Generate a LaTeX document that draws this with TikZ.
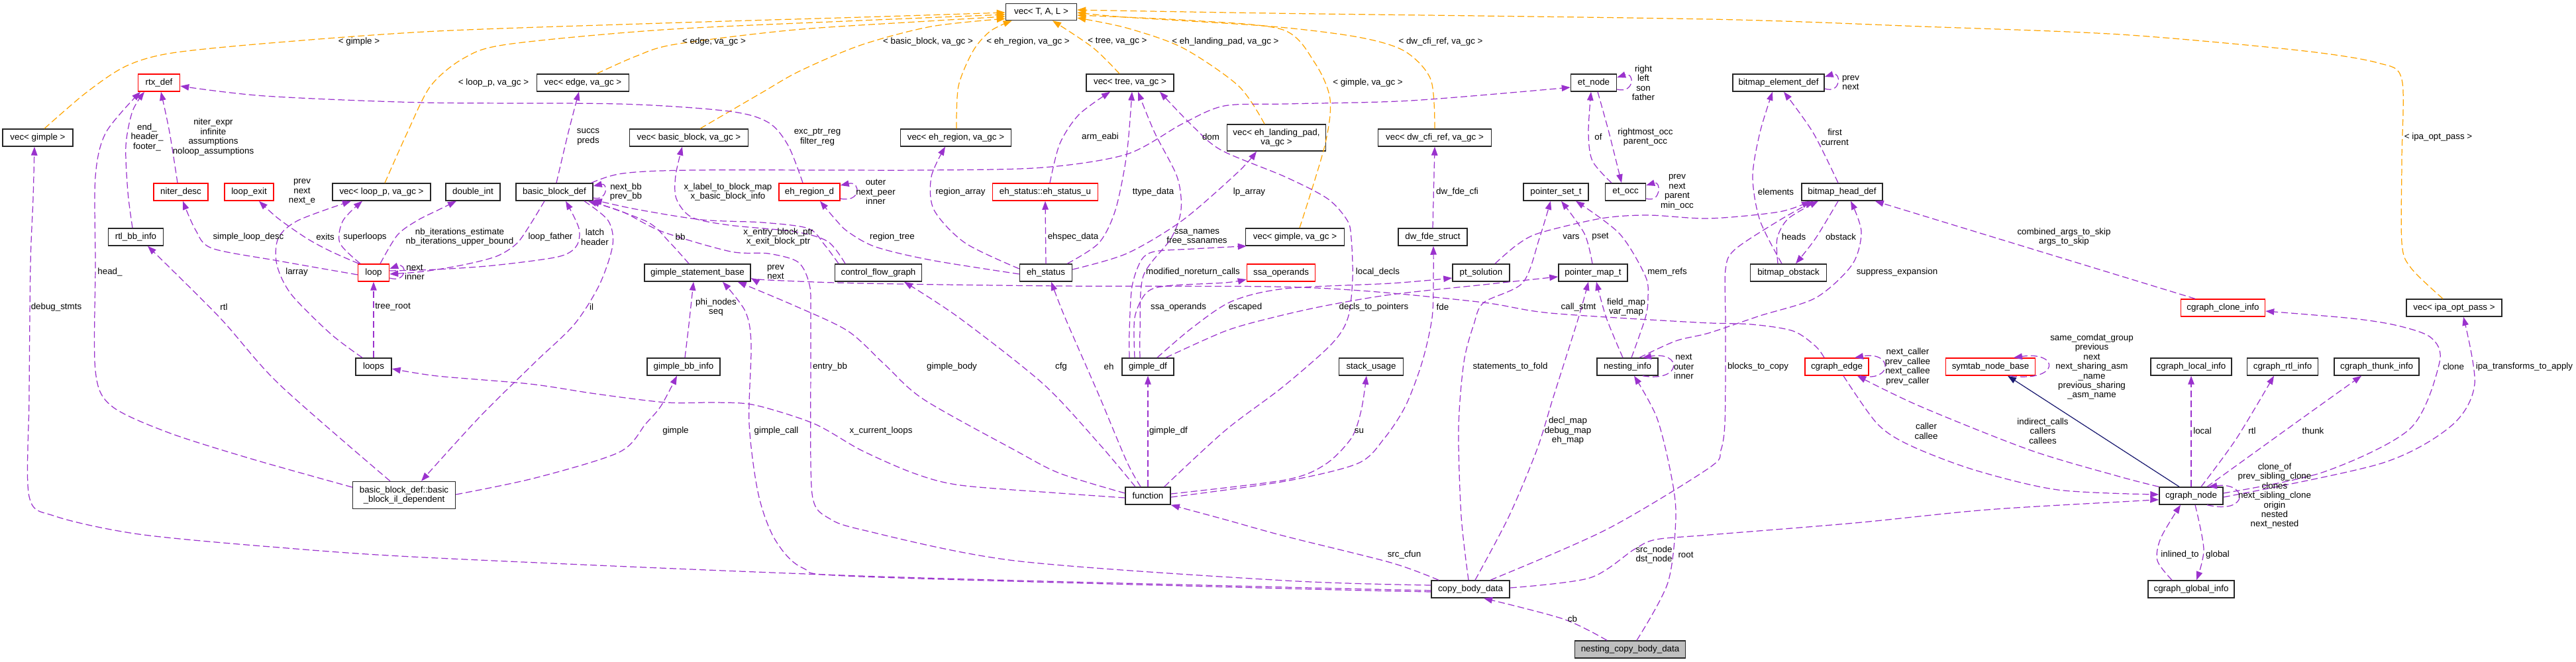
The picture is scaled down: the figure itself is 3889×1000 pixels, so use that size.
\documentclass[tikz,border=0pt]{standalone}
\usepackage{fontspec}
\setmainfont{Liberation Sans}
\usetikzlibrary{arrows.meta,calc}
\definecolor{uc}{HTML}{9A32CD}
\definecolor{tc}{HTML}{FFA500}
\definecolor{ic}{HTML}{191970}
\definecolor{ngray}{HTML}{BFBFBF}
\newcommand\dfont{\fontsize{7.6pt}{8.25pt}\selectfont}
\tikzset{
  cls/.style={draw=black!85, line width=0.85pt, fill=white, inner sep=0pt,
    minimum height=0.52cm, font=\dfont, align=center},
  rcls/.style={cls, draw=red},
  wd/.style={minimum width=#1*0.02cm},
  ht/.style={minimum height=#1*0.02cm},
  tipa/.style={-{Triangle[length=0.26cm,width=0.19cm]}},
  ue/.style={draw=uc, line width=0.7pt, dash pattern=on 0.2cm off 0.1cm, tipa},
  te/.style={draw=tc, line width=0.7pt, dash pattern=on 0.2cm off 0.1cm, tipa},
  ie/.style={draw=ic, line width=0.7pt, tipa},
  lbl/.style={font=\dfont, align=center, inner sep=0pt},
}
\begin{document}
\begin{tikzpicture}[x=0.02cm, y=-0.02cm]
\useasboundingbox (0,0) rectangle (3889,1000);
\fill[white] (0,0) rectangle (3889,1000);

% ---------- nodes ----------
\node[cls,wd=106] (vecgimple) at (57,208) {vec< gimple >};
\node[rcls,wd=63] (rtxdef) at (240,125) {rtx\_def};
\node[rcls,wd=82] (niterdesc) at (273,290) {niter\_desc};
\node[rcls,wd=74] (loopexit) at (376,290) {loop\_exit};
\node[cls,wd=148] (veclooppt) at (576,290) {vec< loop\_p, va\_gc >};
\node[cls,wd=83] (rtlbbinfo) at (205,358) {rtl\_bb\_info};
\node[rcls,wd=47] (loop) at (564,412) {loop};
\node[cls,wd=54] (loops) at (564,554) {loops};
\node[cls,wd=155,ht=41] (bbil) at (610,748) {basic\_block\_def::basic\\\_block\_il\_dependent};
\node[cls,wd=139] (vecedge) at (880,125) {vec< edge, va\_gc >};
\node[cls,wd=82] (doubleint) at (714,290) {double\_int};
\node[cls,wd=116] (bbdef) at (837,290) {basic\_block\_def};
\node[cls,wd=179] (vecbb) at (1040,208) {vec< basic\_block, va\_gc >};
\node[rcls,wd=92] (ehregiond) at (1222,290) {eh\_region\_d};
\node[cls,wd=160] (gsb) at (1053,412) {gimple\_statement\_base};
\node[cls,wd=131] (cfg) at (1326,412) {control\_flow\_graph};
\node[cls,wd=110] (gbbinfo) at (1032,554) {gimple\_bb\_info};
\node[cls,wd=107,ht=25] (vecTAL) at (1572,18) {vec< T, A, L >};
\node[cls,wd=167] (vecehregion) at (1443,208) {vec< eh\_region, va\_gc >};
\node[cls,wd=132] (vectree) at (1706,125) {vec< tree, va\_gc >};
\node[cls,wd=149,ht=40] (veclp) at (1927,208) {vec< eh\_landing\_pad,\\ va\_gc >};
\node[rcls,wd=159] (ehstatusu) at (1578,290) {eh\_status::eh\_status\_u};
\node[cls,wd=79] (ehstatus) at (1579,412) {eh\_status};
\node[cls,wd=149] (vecgimplegc) at (1955,358) {vec< gimple, va\_gc >};
\node[rcls,wd=103] (ssaoperands) at (1934,412) {ssa\_operands};
\node[cls,wd=78] (gimpledf) at (1733,554) {gimple\_df};
\node[cls,wd=68] (function) at (1733,749) {function};
\node[cls,wd=69] (etnode) at (2406,125) {et\_node};
\node[cls,wd=171] (veccfi) at (2166,208) {vec< dw\_cfi\_ref, va\_gc >};
\node[cls,wd=98] (pointerset) at (2349,290) {pointer\_set\_t};
\node[cls,wd=61] (etocc) at (2454,290) {et\_occ};
\node[cls,wd=104] (dwfde) at (2163,358) {dw\_fde\_struct};
\node[cls,wd=86] (ptsolution) at (2236,412) {pt\_solution};
\node[cls,wd=104] (pointermap) at (2405,412) {pointer\_map\_t};
\node[cls,wd=97] (stackusage) at (2070,554) {stack\_usage};
\node[cls,wd=92] (nestinginfo) at (2457,554) {nesting\_info};
\node[cls,wd=118] (cbd) at (2220,890) {copy\_body\_data};
\node[cls,wd=167,fill=ngray] (ncbd) at (2461,981) {nesting\_copy\_body\_data};
\node[cls,wd=138] (bitmapelem) at (2685,125) {bitmap\_element\_def};
\node[cls,wd=122] (bitmaphead) at (2781,290) {bitmap\_head\_def};
\node[cls,wd=115] (bitmapobstack) at (2700,412) {bitmap\_obstack};
\node[rcls,wd=96] (cgraphedge) at (2773,554) {cgraph\_edge};
\node[rcls,wd=135] (symtab) at (3005,554) {symtab\_node\_base};
\node[rcls,wd=127] (cloneinfo) at (3356,465) {cgraph\_clone\_info};
\node[cls,wd=144] (vecipa) at (3705,465) {vec< ipa\_opt\_pass >};
\node[cls,wd=122] (localinfo) at (3308,554) {cgraph\_local\_info};
\node[cls,wd=107] (rtlinfo) at (3446,554) {cgraph\_rtl\_info};
\node[cls,wd=128] (thunkinfo) at (3588,554) {cgraph\_thunk\_info};
\node[cls,wd=96] (cgraphnode) at (3308,749) {cgraph\_node};
\node[cls,wd=130] (globalinfo) at (3308,890) {cgraph\_global\_info};

% ---------- template edges ----------
\draw[te] plot[smooth] coordinates {($(vecgimple.north)+(10,0)$) (130,140) (190,100) (260,80) (420,64) (660,47) (1000,35) (1300,26) ($(vecTAL.west)+(0,1)$)};
\draw[te] plot[smooth] coordinates {($(veclooppt.north)+(5,0)$) (615,200) (650,130) (700,88) (766,67) (1000,45) (1300,31) ($(vecTAL.west)+(0,4)$)};
\draw[te] plot[smooth] coordinates {($(vecedge.north)+(21,0)$) (960,85) (1019,67) (1200,45) (1400,32) ($(vecTAL.west)+(0,7)$)};
\draw[te] plot[smooth] coordinates {($(vecbb.north)+(17,0)$) (1150,140) (1208,107) (1300,68) (1406,40) ($(vecTAL.south west)+(0,-3)$)};
\draw[te] plot[smooth] coordinates {($(vecehregion.north)+(1,0)$) (1447,130) (1469,77) (1495,47) ($(vecTAL.south west)+(10,0)$)};
\draw[te] plot[smooth] coordinates {($(vectree.north)+(-16,0)$) (1650,72) ($(vecTAL.south)+(17,0)$)};
\draw[te] plot[smooth] coordinates {($(veclp.north)+(-18,0)$) (1870,130) (1785,72) (1700,42) ($(vecTAL.east)+(0,9)$)};
\draw[te] plot[smooth] coordinates {($(vecgimplegc.north)+(7,0)$) (2000,220) (2008,150) (1985,95) (1937,45) (1800,31) ($(vecTAL.east)+(0,5)$)};
\draw[te] plot[smooth] coordinates {(veccfi.north) (2160,120) (2120,77) (2050,56) (1920,40) (1700,26) ($(vecTAL.east)+(0,1)$)};
\draw[te] plot[smooth] coordinates {($(vecipa.north)+(-17,0)$) (3640,405) (3626,367) (3626,240) (3626,120) (3590,95) (3470,76) (3200,52) (2900,40) (2580,29) (1920,20) ($(vecTAL.east)+(0,-3)$)};

% ---------- usage edges ----------
\draw[ue] plot[smooth] coordinates {($(rtlbbinfo.north)+(-5,0)$) (193,290) (190,220) (200,168) ($(rtxdef.south)+(-22,0)$)};
\draw[ue] plot[smooth] coordinates {($(niterdesc.north)+(-5,0)$) (256,200) ($(rtxdef.south)+(3,0)$)};
\draw[ue] plot[smooth] coordinates {($(bbil.west)+(0,-12)$) (379,693) (253,653) (168,613) (144,560) (144,400) (144,267) (160,200) ($(rtxdef.south)+(-28,0)$)};
\draw[ue] plot[smooth] coordinates {($(ehregiond.north)+(-10,0)$) (1190,220) (1160,185) (1100,168) (935,157) (640,155) (400,145) ($(rtxdef.east)+(0,5)$)};
\draw[ue] plot[smooth] coordinates {($(cbd.west)+(0,2)$) (1940,887) (1300,870) (660,843) (421,827) (210,807) (84,780) (44,750) (44,600) (46,400) (50,300) ($(vecgimple.south)+(-5,0)$)};
\draw[ue] plot[smooth] coordinates {($(loop.west)+(0,3)$) (420,394) (320,375) (295,347) ($(niterdesc.south)+(3,0)$)};
\draw[ue] plot[smooth] coordinates {($(loop.north west)+(2,0)$) (500,380) (463,360) (420,330) ($(loopexit.south)+(15,0)$)};
\draw[ue] plot[smooth] coordinates {($(loop.north)+(-20,0)$) (513,367) (518,333) ($(veclooppt.south)+(-29,0)$)};
\draw[ue] plot[smooth] coordinates {($(loops.north)+(-17,0)$) (500,505) (440,445) (418,400) (420,360) (450,333) ($(veclooppt.south)+(-46,0)$)};
\draw[ue] (loops.north) -- (loop.south);
\draw[ue] ($(loop.east)+(0,8)$) .. controls (615,428) and (615,396) .. ($(loop.east)+(0,-6)$);
\draw[ue] plot[smooth] coordinates {($(loop.north)+(10,0)$) (600,355) (630,333) (660,318) ($(doubleint.south)+(-25,0)$)};
\draw[ue] plot[smooth] coordinates {($(loop.east)+(0,-3)$) (660,407) (745,401) (842,388) (870,372) (874,345) ($(bbdef.south)+(17,0)$)};
\draw[ue] plot[smooth] coordinates {($(bbdef.south)+(-15,0)$) (800,340) (780,368) (750,387) (700,400) (640,410) ($(loop.east)+(0,2)$)};
\draw[ue] plot[smooth] coordinates {($(bbdef.south)+(45,0)$) (918,333) (925,370) (905,430) (867,490) (808,547) (724,630) ($(bbil.north)+(26,0)$)};
\draw[ue] plot[smooth] coordinates {($(bbdef.north)+(3,0)$) (858,200) ($(vecedge.south)+(-6,0)$)};
\draw[ue] ($(bbdef.east)+(0,9)$) .. controls (918,304) and (918,276) .. ($(bbdef.east)+(0,-9)$);
\draw[ue] plot[smooth] coordinates {($(gsb.north)+(-13,0)$) (1010,365) (977,335) ($(bbdef.south)+(55,0)$)};
\draw[ue] plot[smooth] coordinates {($(cfg.north)+(-60,0)$) (1245,370) (1220,345) (1150,336) (1060,332) (960,316) ($(bbdef.south east)+(0,-2)$)};
\draw[ue] plot[smooth] coordinates {($(cbd.west)+(0,-6)$) (1940,877) (1532,847) (1300,800) (1250,782) (1229,760) (1224,700) (1224,480) (1222,430) (1205,396) (1160,383) (1103,380) (1000,350) (940,320) ($(bbdef.south east)+(-8,0)$)};
\draw[ue] plot[smooth] coordinates {($(cfg.north)+(-50,0)$) (1250,365) (1200,350) (1100,340) (1044,328) (1021,300) (1020,265) ($(vecbb.south)+(-10,0)$)};
\draw[ue] plot[smooth] coordinates {($(bbdef.north east)+(-3,0)$) (940,262) (1050,257) (1400,257) (1575,253) (1701,233) (1785,187) (1848,160) (1940,157) (2130,152) ($(etnode.west)+(0,7)$)};
\draw[ue] plot[smooth] coordinates {($(bbil.east)+(0,-1)$) (808,722) (935,683) (975,640) (998,613) ($(gbbinfo.south)+(-10,0)$)};
\draw[ue] plot[smooth] coordinates {($(gbbinfo.north)+(2,0)$) (1040,490) ($(gsb.south)+(-6,0)$)};
\draw[ue] plot[smooth] coordinates {($(cbd.west)+(0,4)$) (1940,889) (1300,871) (1212,858) (1170,815) (1145,747) (1131,640) (1134,520) (1125,470) ($(gsb.south)+(38,0)$)};
\draw[ue] plot[smooth] coordinates {($(function.west)+(0,-4)$) (1600,715) (1532,680) (1394,603) (1335,550) (1280,500) (1200,462) ($(gsb.south east)+(-20,0)$)};
\draw[ue] plot[smooth] coordinates {($(function.west)+(0,3)$) (1600,745) (1450,733) (1380,715) (1300,680) (1229,640) (1140,612) (1082,608) (1006,608) (900,595) (800,580) (660,568) ($(loops.east)+(0,3)$)};
\draw[ue] (function.north) -- (gimpledf.south);
\draw[ue] plot[smooth] coordinates {($(function.north)+(-11,0)$) (1701,697) (1659,597) (1608,480) ($(ehstatus.south)+(8,0)$)};
\draw[ue] plot[smooth] coordinates {($(function.north)+(-19,0)$) (1659,670) (1575,580) (1448,480) ($(cfg.south)+(39,0)$)};
\draw[ue] plot[smooth] coordinates {($(function.north east)+(-10,0)$) (1850,650) (1936,585) (2010,520) (2035,480) (2042,420) (2040,360) (2034,333) (2004,300) (1940,267) (1844,227) (1800,190) ($(vectree.south)+(45,0)$)};
\draw[ue] plot[smooth] coordinates {($(function.east)+(0,-3)$) (1940,725) (2000,702) (2040,662) (2055,620) ($(stackusage.south)+(-7,0)$)};
\draw[ue] plot[smooth] coordinates {($(function.east)+(0,2)$) (1940,727) (2050,700) (2090,662) (2122,613) (2147,547) (2162,480) (2164,420) ($(dwfde.south)+(1,0)$)};
\draw[ue] (dwfde.north) -- (veccfi.south);
\draw[ue] plot[smooth] coordinates {($(cbd.north)+(-3,0)$) (2206,780) (2202,647) (2210,547) (2225,490) (2240,457) (2299,427) (2324,360) ($(pointerset.south)+(-8,0)$)};
\draw[ue] plot[smooth] coordinates {($(ptsolution.north)+(21,0)$) (2290,370) (2324,352) (2417,330) (2488,325) (2580,330) (2686,320) ($(bitmaphead.south)+(-48,0)$)};
\draw[ue] plot[smooth] coordinates {($(pointermap.north)+(-1,0)$) (2392,353) ($(pointerset.south)+(8,0)$)};
\draw[ue] plot[smooth] coordinates {($(nestinginfo.north)+(6,0)$) (2484,480) (2488,450) (2484,417) (2445,353) ($(pointerset.south)+(30,0)$)};
\draw[ue] plot[smooth] coordinates {($(nestinginfo.north)+(-7,0)$) (2425,480) ($(pointermap.south)+(5,0)$)};
\draw[ue] plot[smooth] coordinates {($(cbd.north)+(7,0)$) (2278,780) (2320,680) (2345,600) (2383,480) ($(pointermap.south)+(-7,0)$)};
\draw[ue] plot[smooth] coordinates {($(cgraphedge.north)+(-19,0)$) (2741,523) (2707,500) (2644,490) (2560,487) (2341,473) (2240,457) (2067,440) (1920,433) (1600,432) (1300,428) (1160,423) ($(gsb.east)+(0,8)$)};
\draw[ue] plot[smooth] coordinates {($(gimpledf.north)+(-12,0)$) (1721,500) (1726,417) (1768,360) (1783,317) (1777,267) (1743,200) ($(vectree.south)+(12,0)$)};
\draw[ue] plot[smooth] coordinates {($(gimpledf.north)+(-28,0)$) (1705,500) (1709,433) (1723,393) (1743,380) (1800,376) ($(vecgimplegc.south west)+(2,0)$)};
\draw[ue] plot[smooth] coordinates {($(gimpledf.north)+(-20,0)$) (1713,480) (1730,443) (1760,432) (1850,427) ($(ssaoperands.west)+(0,10)$)};
\draw[ue] plot[smooth] coordinates {($(gimpledf.north)+(14,0)$) (1800,495) (1860,455) (1940,436) (2100,428) ($(ptsolution.west)+(0,8)$)};
\draw[ue] plot[smooth] coordinates {($(gimpledf.north)+(27,0)$) (1850,500) (1920,480) (2000,462) (2100,445) (2240,430) ($(pointermap.west)+(0,6)$)};
\draw[ue] ($(nestinginfo.south)+(23,0)$) .. controls (2540,578) and (2540,530) .. ($(nestinginfo.north)+(23,0)$);
\draw[ue] plot[smooth] coordinates {($(ncbd.north)+(-35,0)$) (2360,935) ($(cbd.south)+(20,0)$)};
\draw[ue] plot[smooth] coordinates {($(ncbd.north)+(10,0)$) (2518,880) (2530,780) (2522,713) (2501,630) ($(nestinginfo.south)+(10,0)$)};
\draw[ue] plot[smooth] coordinates {($(cbd.north)+(-48,0)$) (2100,850) (1940,810) (1850,785) (function.south east)};
\draw[ue] plot[smooth] coordinates {($(cbd.east)+(0,-2)$) (2400,873) (2467,830) (2500,815) (2580,808) (2800,790) (3000,770) (3220,757) ($(cgraphnode.west)+(0,6)$)};
\draw[ue] plot[smooth] coordinates {($(cbd.north)+(30,0)$) (2425,800) (2580,707) (2598,680) (2604,640) (2605,547) (2605,480) (2605,407) (2619,377) (2686,333) ($(bitmaphead.south)+(-43,0)$)};
\draw[ue] plot[smooth] coordinates {($(bitmaphead.north)+(-6,0)$) (2737,200) ($(bitmapelem.south)+(8,0)$)};
\draw[ue] plot[smooth] coordinates {($(bitmapobstack.north)+(-10,0)$) (2657,333) (2646,267) (2657,200) ($(bitmapelem.south)+(-9,0)$)};
\draw[ue] plot[smooth] coordinates {($(bitmapobstack.north)+(-16,0)$) (2683,360) (2700,330) ($(bitmaphead.south)+(-36,0)$)};
\draw[ue] plot[smooth] coordinates {($(bitmaphead.south)+(-6,0)$) (2741,360) ($(bitmapobstack.north)+(11,0)$)};
\draw[ue] ($(bitmapelem.east)+(0,9)$) .. controls (2780,142) and (2780,108) .. ($(bitmapelem.east)+(0,-9)$);
\draw[ue] plot[smooth] coordinates {($(nestinginfo.north)+(18,0)$) (2530,515) (2580,503) (2657,477) (2741,450) (2796,400) (2810,350) ($(bitmaphead.south)+(13,0)$)};
\draw[ue] ($(cloneinfo.north)+(-42,0)$) -- ($(bitmaphead.south east)+(-12,0)$);
\draw[ue] plot[smooth] coordinates {($(cgraphnode.east)+(0,-4)$) (3508,713) (3639,647) (3683,547) (3670,510) (3620,492) (3551,481) ($(cloneinfo.east)+(0,5)$)};
\draw[ue] plot[smooth] coordinates {($(cgraphnode.east)+(0,2)$) (3595,700) (3701,643) (3736,580) ($(vecipa.south)+(14,0)$)};
\draw[ue] (cgraphnode.north) -- (localinfo.south);
\draw[ue] plot[smooth] coordinates {($(cgraphnode.north)+(15,0)$) (3376,663) ($(rtlinfo.south)+(-13,0)$)};
\draw[ue] plot[smooth] coordinates {($(cgraphnode.north)+(24,0)$) (3464,640) ($(thunkinfo.south)+(-23,0)$)};
\draw[ue] ($(cgraphnode.south)+(24,0)$) .. controls (3395,778) and (3395,728) .. ($(cgraphnode.north)+(26,0)$);
\draw[ue] plot[smooth] coordinates {($(cgraphnode.south)+(6,0)$) (3327,830) ($(globalinfo.north)+(8,0)$)};
\draw[ue] plot[smooth] coordinates {($(globalinfo.north)+(-29,0)$) (3257,847) (3262,813) ($(cgraphnode.south)+(-16,0)$)};
\draw[ie] ($(cgraphnode.north)+(-18,0)$) -- ($(symtab.south)+(26,0)$);
\draw[ue] ($(symtab.south)+(30,0)$) .. controls (3110,578) and (3110,530) .. ($(symtab.north)+(35,0)$);
\draw[ue] plot[smooth] coordinates {(cgraphnode.north west) (3200,720) (3065,680) (2897,613) ($(cgraphedge.south)+(31,0)$)};
\draw[ue] plot[smooth] coordinates {($(cgraphedge.south)+(10,0)$) (2834,640) (2884,673) (2981,710) (3107,740) ($(cgraphnode.west)+(0,-2)$)};
\draw[ue] ($(cgraphedge.south)+(35,0)$) .. controls (2858,578) and (2858,530) .. ($(cgraphedge.north)+(27,0)$);
\draw[ue] ($(etnode.east)+(0,10)$) .. controls (2468,142) and (2468,108) .. ($(etnode.east)+(0,-8)$);
\draw[ue] plot[smooth] coordinates {($(etocc.north)+(-21,0)$) (2404,243) (2398,200) ($(etnode.south)+(-4,0)$)};
\draw[ue] plot[smooth] coordinates {($(etnode.south)+(6,0)$) (2429,200) ($(etocc.north)+(-6,0)$)};
\draw[ue] ($(etocc.east)+(0,10)$) .. controls (2508,307) and (2508,273) .. ($(etocc.east)+(0,-10)$);
\draw[ue] ($(ehregiond.east)+(0,10)$) .. controls (1300,307) and (1300,273) .. ($(ehregiond.east)+(0,-10)$);
\draw[ue] plot[smooth] coordinates {($(ehstatus.west)+(0,2)$) (1406,393) (1322,373) (1280,350) (1260,330) ($(ehregiond.south)+(16,0)$)};
\draw[ue] plot[smooth] coordinates {($(ehstatus.west)+(0,-6)$) (1457,367) (1410,317) (1406,267) ($(vecehregion.south)+(-16,0)$)};
\draw[ue] (ehstatus.north) -- (ehstatusu.south);
\draw[ue] plot[smooth] coordinates {($(ehstatus.north east)+(-8,0)$) (1659,367) (1684,317) (1701,233) ($(vectree.south)+(3,0)$)};
\draw[ue] plot[smooth] coordinates {($(ehstatus.east)+(0,-5)$) (1701,383) (1785,333) (1869,260) ($(veclp.south)+(-30,0)$)};
\draw[ue] plot[smooth] coordinates {($(ehstatusu.north)+(7,0)$) (1600,217) (1629,173) ($(vectree.south)+(-30,0)$)};
\draw[ue] plot[smooth] coordinates {($(bbil.north)+(-21,0)$) (421,580) (332,480) ($(rtlbbinfo.south)+(18,0)$)};

% ---------- labels ----------
\node[lbl] (l1) at (542,63) {< gimple >};
\node[lbl] (l2) at (745,125) {< loop\_p, va\_gc >};
\node[lbl] (l3) at (1078,63) {< edge, va\_gc >};
\node[lbl] (l4) at (1401,63) {< basic\_block, va\_gc >};
\node[lbl] (l5) at (1552,63) {< eh\_region, va\_gc >};
\node[lbl] (l6) at (1687,63) {< tree, va\_gc >};
\node[lbl] (l7) at (1850,63) {< eh\_landing\_pad, va\_gc >};
\node[lbl] (l8) at (2065,125) {< gimple, va\_gc >};
\node[lbl] (l9) at (2175,63) {< dw\_cfi\_ref, va\_gc >};
\node[lbl] (l10) at (3681,207) {< ipa\_opt\_pass >};
\node[lbl] (l11) at (222,207) {end\_\\header\_\\footer\_};
\node[lbl] (l12) at (322,207) {niter\_expr\\infinite\\assumptions\\noloop\_assumptions};
\node[lbl] (l13) at (456,290) {prev\\next\\next\_e};
\node[lbl] (l14) at (375,358) {simple\_loop\_desc};
\node[lbl] (l15) at (491,358) {exits};
\node[lbl] (l16) at (551,358) {superloops};
\node[lbl] (l17) at (166,411) {head\_};
\node[lbl] (l18) at (448,411) {larray};
\node[lbl] (l19) at (626,411) {next\\inner};
\node[lbl] (l20) at (85,464) {debug\_stmts};
\node[lbl] (l21) at (338,464) {rtl};
\node[lbl] (l22) at (593,464) {tree\_root};
\node[lbl] (l23) at (694,358) {nb\_iterations\_estimate\\nb\_iterations\_upper\_bound};
\node[lbl] (l24) at (888,207) {succs\\preds};
\node[lbl] (l25) at (1234,207) {exc\_ptr\_reg\\filter\_reg};
\node[lbl] (l26) at (945,290) {next\_bb\\prev\_bb};
\node[lbl] (l27) at (1099,290) {x\_label\_to\_block\_map\\x\_basic\_block\_info};
\node[lbl] (l28) at (831,358) {loop\_father};
\node[lbl] (l29) at (898,358) {latch\\header};
\node[lbl] (l30) at (1027,358) {bb};
\node[lbl] (l31) at (1175,358) {x\_entry\_block\_ptr\\x\_exit\_block\_ptr};
\node[lbl] (l32) at (1171,411) {prev\\next};
\node[lbl] (l33) at (893,464) {il};
\node[lbl] (l34) at (1081,464) {phi\_nodes\\seq};
\node[lbl] (l35) at (1322,290) {outer\\next\_peer\\inner};
\node[lbl] (l36) at (1661,207) {arm\_eabi};
\node[lbl] (l37) at (1828,207) {dom};
\node[lbl] (l38) at (1450,290) {region\_array};
\node[lbl] (l39) at (1741,290) {ttype\_data};
\node[lbl] (l40) at (1886,290) {lp\_array};
\node[lbl] (l41) at (1347,358) {region\_tree};
\node[lbl] (l42) at (1620,358) {ehspec\_data};
\node[lbl] (l43) at (1807,358) {ssa\_names\\free\_ssanames};
\node[lbl] (l44) at (1801,411) {modified\_noreturn\_calls};
\node[lbl] (l45) at (1779,464) {ssa\_operands};
\node[lbl] (l46) at (1880,464) {escaped};
\node[lbl] (l47) at (2481,125) {right\\left\\son\\father};
\node[lbl] (l48) at (2413,207) {of};
\node[lbl] (l49) at (2484,207) {rightmost\_occ\\parent\_occ};
\node[lbl] (l50) at (2532,290) {prev\\next\\parent\\min\_occ};
\node[lbl] (l51) at (2200,290) {dw\_fde\_cfi};
\node[lbl] (l52) at (2372,358) {vars};
\node[lbl] (l53) at (2416,358) {pset};
\node[lbl] (l54) at (2080,411) {local\_decls};
\node[lbl] (l55) at (2517,411) {mem\_refs};
\node[lbl] (l56) at (2074,464) {decls\_to\_pointers};
\node[lbl] (l57) at (2178,464) {fde};
\node[lbl] (l58) at (2383,464) {call\_stmt};
\node[lbl] (l59) at (2455,464) {field\_map\\var\_map};
\node[lbl] (l60) at (2794,125) {prev\\next};
\node[lbl] (l61) at (2770,207) {first\\current};
\node[lbl] (l62) at (2681,290) {elements};
\node[lbl] (l63) at (2708,358) {heads};
\node[lbl] (l64) at (2779,358) {obstack};
\node[lbl] (l65) at (2864,411) {suppress\_expansion};
\node[lbl] (l66) at (3116,358) {combined\_args\_to\_skip\\args\_to\_skip};
\node[lbl] (l67) at (1020,651) {gimple};
\node[lbl] (l68) at (1172,651) {gimple\_call};
\node[lbl] (l69) at (1253,554) {entry\_bb};
\node[lbl] (l70) at (1330,651) {x\_current\_loops};
\node[lbl] (l71) at (1437,554) {gimple\_body};
\node[lbl] (l72) at (1602,554) {cfg};
\node[lbl] (l73) at (1674,554) {eh};
\node[lbl] (l74) at (1764,651) {gimple\_df};
\node[lbl] (l75) at (2052,651) {su};
\node[lbl] (l76) at (2280,554) {statements\_to\_fold};
\node[lbl] (l77) at (2542,554) {next\\outer\\inner};
\node[lbl] (l78) at (2367,651) {decl\_map\\debug\_map\\eh\_map};
\node[lbl] (l79) at (2120,838) {src\_cfun};
\node[lbl] (l80) at (2497,838) {src\_node\\dst\_node};
\node[lbl] (l81) at (2545,838) {root};
\node[lbl] (l82) at (2374,935) {cb};
\node[lbl] (l83) at (2654,554) {blocks\_to\_copy};
\node[lbl] (l84) at (2880,554) {next\_caller\\prev\_callee\\next\_callee\\prev\_caller};
\node[lbl] (l85) at (3158,554) {same\_comdat\_group\\previous\\next\\next\_sharing\_asm\\\_name\\previous\_sharing\\\_asm\_name};
\node[lbl] (l86) at (2908,651) {caller\\callee};
\node[lbl] (l87) at (3084,651) {indirect\_calls\\callers\\callees};
\node[lbl] (l88) at (3704,554) {clone};
\node[lbl] (l89) at (3811,554) {ipa\_transforms\_to\_apply};
\node[lbl] (l90) at (3325,651) {local};
\node[lbl] (l91) at (3400,651) {rtl};
\node[lbl] (l92) at (3492,651) {thunk};
\node[lbl] (l93) at (3434,749) {clone\_of\\prev\_sibling\_clone\\clones\\next\_sibling\_clone\\origin\\nested\\next\_nested};
\node[lbl] (l94) at (3291,838) {inlined\_to};
\node[lbl] (l95) at (3348,838) {global};
\end{tikzpicture}
\end{document}
